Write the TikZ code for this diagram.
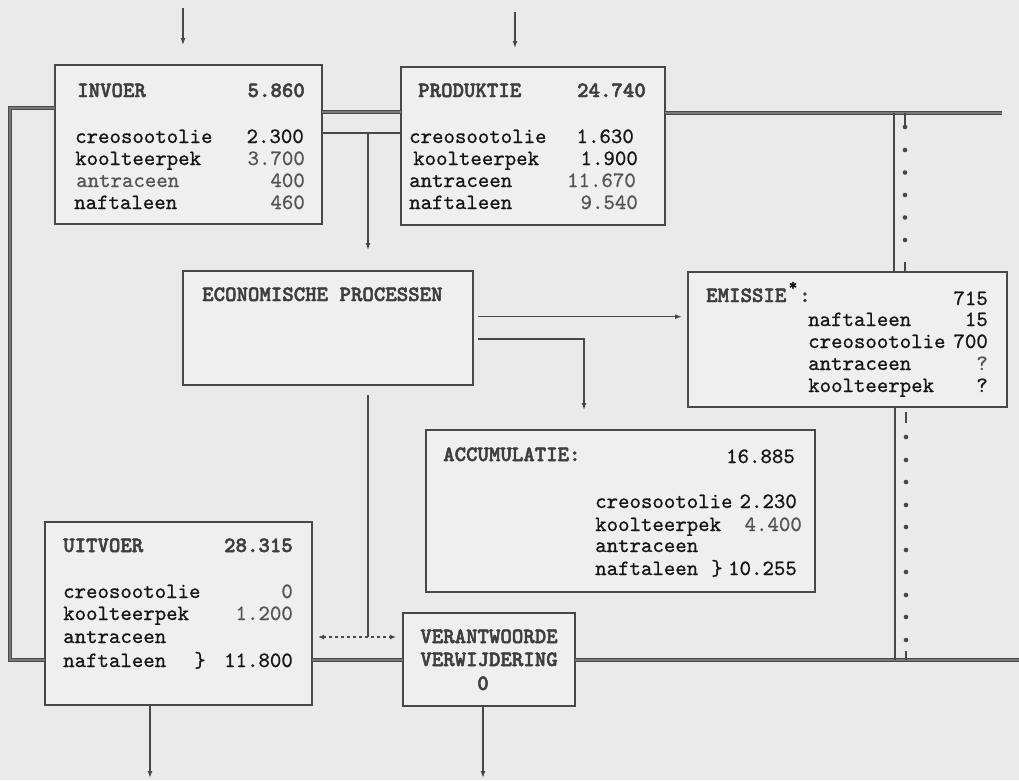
\documentclass[tikz,border=0pt]{standalone}
\usepackage{fontspec}
\usetikzlibrary{arrows.meta,calc}
\newfontfamily\tw{lmmono10-regular}[Extension=.otf, FakeBold=0.8]
\newfontfamily\twb{lmmonolt10-bold}[Extension=.otf, FakeBold=2.2]
\definecolor{paper}{RGB}{234,234,234}
\definecolor{boxfill}{RGB}{239,239,239}
\definecolor{ink}{RGB}{22,22,22}
\definecolor{hdr}{RGB}{62,62,62}
\definecolor{numg}{RGB}{85,85,85}
\definecolor{linec}{RGB}{72,72,72}
\definecolor{dblin}{RGB}{120,120,120}
\begin{document}
\begin{tikzpicture}[x=1pt,y=-1pt,
  box/.style={draw=linec, line width=1.4pt, fill=boxfill, anchor=north west, inner sep=0pt, outer sep=0pt},
  itm/.style={font=\tw\fontsize{21.8}{22}\selectfont, text=ink, inner sep=0pt},
  hd/.style={font=\twb\fontsize{21.8}{22}\selectfont, text=hdr, inner sep=0pt},
  dbl/.style={draw=linec, line width=1.3pt, double=dblin, double distance=1.4pt},
  thinln/.style={draw=linec, line width=1.2pt},
  arr/.style={thinln, -{Latex[length=7pt,width=5pt]}},
  darr/.style={thinln, dashed, {Latex[length=6pt,width=5pt]}-{Latex[length=6pt,width=5pt]}},
  dotmark/.style={fill=linec}
]
\useasboundingbox (0,0) rectangle (1019,780);
\fill[paper] (0,0) rectangle (1019,780);

% boxes
\node[box, minimum width=267pt, minimum height=159pt] (inv) at (55,65) {};
\node[box, minimum width=264pt, minimum height=158pt] (prod) at (401,67) {};
\node[box, minimum width=290pt, minimum height=114pt] (econ) at (183,271) {};
\node[box, minimum width=319pt, minimum height=135pt] (emis) at (688,272) {};
\node[box, minimum width=389pt, minimum height=162pt] (accu) at (426,430) {};
\node[box, minimum width=267pt, minimum height=183pt] (uitv) at (45,522) {};
\node[box, minimum width=172pt, minimum height=93pt] (verw) at (403,613) {};

% INVOER
\node[hd, anchor=base west] (invh) at (77,97) {INVOER};
\node[hd, anchor=base east] (invn) at (305,97) {5.860};
\node[itm, anchor=base west] (inv1) at (75,143) {creosootolie};
\node[itm, anchor=base west] (inv2) at (75,165) {koolteerpek};
\node[itm, anchor=base west, text=numg] (inv3) at (76,187) {antraceen};
\node[itm, anchor=base west] (inv4) at (74,209) {naftaleen};
\node[itm, anchor=base east] (inv1n) at (304,143) {2.300};
\node[itm, anchor=base east, text=numg] (inv2n) at (305,165) {3.700};
\node[itm, anchor=base east, text=numg] (inv3n) at (305,187) {400};
\node[itm, anchor=base east, text=numg] (inv4n) at (305,209) {460};

% PRODUKTIE
\node[hd, anchor=base west] (prodh) at (418,97) {PRODUKTIE};
\node[hd, anchor=base east] (prodn) at (646,97) {24.740};
\node[itm, anchor=base west] (prod1) at (409,143) {creosootolie};
\node[itm, anchor=base west] (prod2) at (413,165) {koolteerpek};
\node[itm, anchor=base west] (prod3) at (409,187) {antraceen};
\node[itm, anchor=base west] (prod4) at (409,209) {naftaleen};
\node[itm, anchor=base east] (prod1n) at (634,143) {1.630};
\node[itm, anchor=base east] (prod2n) at (638,165) {1.900};
\node[itm, anchor=base east, text=numg] (prod3n) at (636,187) {11.670};
\node[itm, anchor=base east, text=numg] (prod4n) at (638,209) {9.540};

% ECONOMISCHE PROCESSEN
\node[hd, anchor=base west] (econh) at (202,301) {ECONOMISCHE PROCESSEN};

% EMISSIE
\node[hd, anchor=base west] (emish) at (706,302) {EMISSIE};
\node[font=\twb\fontsize{16}{16}\selectfont, text=ink, inner sep=0pt] (emisast) at (793,286) {*};
\node[hd, anchor=base west] (emiscol) at (799,302) {:};
\node[itm, anchor=base east] (emisn) at (988,305) {715};
\node[itm, anchor=base west] (emis1) at (808,326) {naftaleen};
\node[itm, anchor=base west] (emis2) at (808,348) {creosootolie};
\node[itm, anchor=base west] (emis3) at (808,370) {antraceen};
\node[itm, anchor=base west] (emis4) at (808,392) {koolteerpek};
\node[itm, anchor=base east] (emis1n) at (988,326) {15};
\node[itm, anchor=base east] (emis2n) at (988,348) {700};
\node[itm, anchor=base east, text=numg] (emis3n) at (988,370) {?};
\node[itm, anchor=base east] (emis4n) at (988,392) {?};

% ACCUMULATIE
\node[hd, anchor=base west] (accuh) at (443,461) {ACCUMULATIE:};
\node[itm, anchor=base east] (accun) at (795,463) {16.885};
\node[itm, anchor=base west] (accu1) at (595,508) {creosootolie};
\node[itm, anchor=base west] (accu2) at (595,531) {koolteerpek};
\node[itm, anchor=base west] (accu3) at (595,552) {antraceen};
\node[itm, anchor=base west] (accu4) at (595,575) {naftaleen};
\node[itm, anchor=base east] (accu1n) at (797,508) {2.230};
\node[itm, anchor=base east, text=numg] (accu2n) at (802,531) {4.400};
\node[itm, anchor=base] (accubr) at (717,575) {\}};
\node[itm, anchor=base east] (accu4n) at (797,575) {10.255};

% UITVOER
\node[hd, anchor=base west] (uitvh) at (63,552) {UITVOER};
\node[hd, anchor=base east] (uitvn) at (293,552) {28.315};
\node[itm, anchor=base west] (uitv1) at (63,598) {creosootolie};
\node[itm, anchor=base west] (uitv2) at (63,620) {koolteerpek};
\node[itm, anchor=base west] (uitv3) at (63,643) {antraceen};
\node[itm, anchor=base west] (uitv4) at (63,667) {naftaleen};
\node[itm, anchor=base east, text=numg] (uitv1n) at (293,598) {0};
\node[itm, anchor=base east, text=numg] (uitv2n) at (293,620) {1.200};
\node[itm, anchor=base] (uitvbr) at (200,667) {\}};
\node[itm, anchor=base east] (uitv4n) at (293,667) {11.800};

% VERANTWOORDE VERWIJDERING
\node[hd, anchor=base] (verw1) at (489,643) {VERANTWOORDE};
\node[hd, anchor=base] (verw2) at (489,666) {VERWIJDERING};
\node[hd, anchor=base] (verw3) at (483,690) {0};

% coordinates for free ends and junctions
\coordinate (tin1) at ($(inv.north west)+(128,-57)$);
\coordinate (tin2) at ($(inv.north west)+(128,-20)$);
\coordinate (tpr1) at ($(prod.north west)+(114,-55)$);
\coordinate (tpr2) at ($(prod.north west)+(114,-19)$);
\coordinate (lt1) at (10,108);
\coordinate (lt2) at (10,660);
\coordinate (rtop) at (1002,113);
\coordinate (rbot) at (1019,660);
\coordinate (j1) at (368,133);
\coordinate (j1e) at (368,250);
\coordinate (j2s) at (368,395);
\coordinate (j2) at (368,637);
\coordinate (lcorner) at (584,339);
\coordinate (b1) at ($(uitv.south west)+(105,73)$);
\coordinate (b2) at ($(verw.south west)+(80,72)$);

% top inflow arrows
\draw[arr] (tin1) -- (tin2);
\draw[arr] (tpr1) -- (tpr2);

% thick double lines
\draw[dbl] ($(inv.north west)+(0,43)$) -- (lt1) -- (lt2) -- ($(uitv.north west)+(0,138)$);
\draw[dbl] ($(inv.north east)+(0,47)$) -- ($(prod.north west)+(0,45)$);
\draw[dbl] ($(prod.north east)+(0,46)$) -- (rtop);
\draw[dbl] ($(uitv.north east)+(0,138)$) -- ($(verw.north west)+(0,47)$);
\draw[dbl] ($(verw.north east)+(0,47)$) -- (rbot);

% thin connectors
\draw[thinln] ($(inv.north east)+(0,68)$) -- ($(prod.north west)+(0,66)$);
\draw[arr] (j1) -- (j1e);
\draw[thinln] (j2s) -- (j2);
\draw[darr] ($(uitv.north east)+(6,115)$) -- ($(verw.north west)+(-7,24)$);
\draw[arr] ($(econ.north east)+(5,45.7)$) -- ($(emis.north west)+(-6,44.7)$);
\draw[thinln, -{Latex[length=7pt,width=5pt]}] ($(econ.north east)+(5,68)$) -- (lcorner) -- ($(accu.north west)+(158,-20)$);

% dotted flows on the right
\draw[thinln] ($(emis.north west)+(206,-159)$) -- ($(emis.north west)+(206,0)$);
\draw[thinln] ($(emis.south west)+(207,0)$) -- ($(emis.south west)+(207,253)$);
\foreach \yy in {127,150,172.5,195,217.5,240} \fill[dotmark] (905,\yy) circle (2.3pt);
\foreach \yy in {437,460,482,505,527,550,572,595,617,640} \fill[dotmark] (906,\yy) circle (2.3pt);
\draw[thinln] ($(emis.north west)+(217,-159)$) -- ($(emis.north west)+(217,-146)$);
\draw[thinln] ($(emis.north west)+(217,-10)$) -- ($(emis.north west)+(217,0)$);
\draw[thinln] ($(emis.south west)+(218,5)$) -- ($(emis.south west)+(218,16)$);
\draw[thinln] ($(emis.south west)+(218,244)$) -- ($(emis.south west)+(218,253)$);

% outflow arrows
\draw[arr] ($(uitv.south west)+(105,0)$) -- (b1);
\draw[arr] ($(verw.south west)+(80,0)$) -- (b2);
\end{tikzpicture}
\end{document}
